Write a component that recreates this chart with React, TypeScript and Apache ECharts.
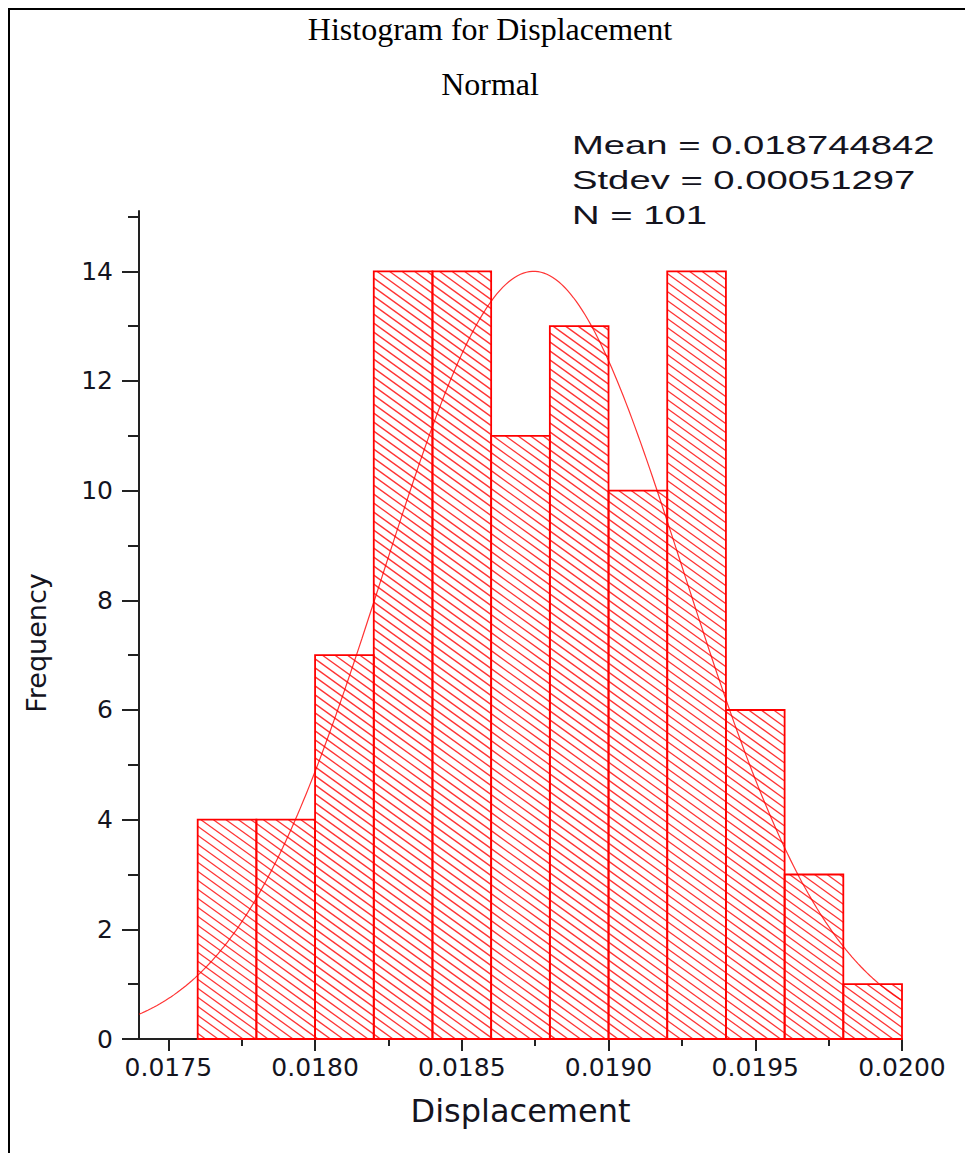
import React, { useEffect, useRef } from "react";
import * as echarts from "echarts";

// Histogram bins (edges) and their frequencies
const binEdges = [0.0176, 0.0178, 0.018, 0.0182, 0.0184, 0.0186, 0.0188, 0.019, 0.0192, 0.0194, 0.0196, 0.0198, 0.02];
const binCounts = [4, 4, 7, 14, 14, 11, 13, 10, 14, 6, 3, 1];

// Axis ranges and tick positions
const xRange = [0.0174, 0.02];
const yRange = [0, 15.1];
const xMajorTicks = [0.0175, 0.018, 0.0185, 0.019, 0.0195, 0.02];
const xMinorTicks = [0.01775, 0.01825, 0.01875, 0.01925, 0.01975];
const yMajorTicks = [0, 2, 4, 6, 8, 10, 12, 14];
const yMinorTicks = [1, 3, 5, 7, 9, 11, 13, 15];

// Fitted normal distribution parameters
const fitMean = 0.018744842;
const fitStdev = 0.00051297;
const sampleSize = 101;

const RED = "#ff0000";
const AXIS = "#222222";
const LABEL = "#14141e";

// Fitted normal curve, scaled to the tallest bin
function normalCurve(): number[][] {
  const peak = Math.max(...binCounts);
  const steps = 260;
  const pts: number[][] = [];
  for (let i = 0; i <= steps; i++) {
    const x = xRange[0] + ((xRange[1] - xRange[0]) * i) / steps;
    const z = (x - fitMean) / fitStdev;
    pts.push([x, peak * Math.exp(-0.5 * z * z)]);
  }
  return pts;
}

const HATCH_SLOPE = 0.72;
const HATCH_STEP = 9;

export default function App() {
  const ref = useRef<HTMLDivElement>(null);

  useEffect(() => {
    if (!ref.current) return;
    const chart = echarts.init(ref.current, undefined, { renderer: "svg" });

    const barData = binCounts.map((c, i) => [binEdges[i], binEdges[i + 1], c]);

    const option: any = {
      animation: false,
      backgroundColor: "#ffffff",
      grid: { left: 139, right: 63, top: 211, bottom: 114, containLabel: false },
      xAxis: [
        {
          type: "value",
          min: xRange[0],
          max: xRange[1],
          position: "bottom",
          name: "Displacement",
          nameLocation: "middle",
          nameGap: 56,
          nameTextStyle: { fontFamily: "DejaVu Sans", fontSize: 32, color: LABEL },
          axisLine: { show: true, onZero: false, lineStyle: { color: AXIS, width: 2 } },
          axisTick: { show: true, length: 12, customValues: xMajorTicks, lineStyle: { color: AXIS, width: 2 } },
          axisLabel: {
            show: true,
            customValues: xMajorTicks,
            margin: 16,
            fontFamily: "DejaVu Sans",
            fontSize: 25,
            color: LABEL,
            formatter: (v: number) => v.toFixed(4),
          },
          splitLine: { show: false },
        },
        {
          type: "value",
          min: xRange[0],
          max: xRange[1],
          position: "bottom",
          axisLine: { show: false, onZero: false },
          axisTick: { show: true, length: 7, customValues: xMinorTicks, lineStyle: { color: AXIS, width: 2 } },
          axisLabel: { show: false },
          splitLine: { show: false },
        },
      ],
      yAxis: [
        {
          type: "value",
          min: yRange[0],
          max: yRange[1],
          position: "left",
          name: "Frequency",
          nameLocation: "middle",
          nameGap: 89,
          nameTextStyle: { fontFamily: "DejaVu Sans", fontSize: 27, color: LABEL, padding: [0, 36, 0, 0] },
          axisLine: { show: true, onZero: false, lineStyle: { color: AXIS, width: 2 } },
          axisTick: { show: true, length: 17, customValues: yMajorTicks, lineStyle: { color: AXIS, width: 2 } },
          axisLabel: {
            show: true,
            customValues: yMajorTicks,
            margin: 26,
            fontFamily: "DejaVu Sans",
            fontSize: 25,
            color: LABEL,
          },
          splitLine: { show: false },
        },
        {
          type: "value",
          min: yRange[0],
          max: yRange[1],
          position: "left",
          axisLine: { show: false, onZero: false },
          axisTick: { show: true, length: 11, customValues: yMinorTicks, lineStyle: { color: AXIS, width: 2 } },
          axisLabel: { show: false },
          splitLine: { show: false },
        },
      ],
      series: [
        {
          type: "custom",
          xAxisIndex: 0,
          yAxisIndex: 0,
          data: barData,
          encode: { x: [0, 1], y: 2 },
          clip: false,
          renderItem: (_params: any, api: any) => {
            const x0 = api.value(0);
            const x1 = api.value(1);
            const c = api.value(2);
            const tl = api.coord([x0, c]);
            const br = api.coord([x1, 0]);
            const left = tl[0];
            const top = tl[1];
            const right = br[0];
            const bottom = br[1];
            const children: any[] = [];
            // diagonal hatching, aligned to a page-wide lattice
            const k = HATCH_SLOPE;
            const cMin = top - k * right;
            const cMax = bottom - k * left;
            for (let cc = Math.ceil(cMin / HATCH_STEP) * HATCH_STEP; cc <= cMax; cc += HATCH_STEP) {
              const xa = Math.max(left, (top - cc) / k);
              const xb = Math.min(right, (bottom - cc) / k);
              if (xb - xa < 0.5) continue;
              children.push({
                type: "line",
                shape: { x1: xa, y1: k * xa + cc, x2: xb, y2: k * xb + cc },
                style: { stroke: "rgba(255,0,0,0.8)", lineWidth: 1.3 },
              });
            }
            children.push({
              type: "rect",
              shape: { x: left, y: top, width: right - left, height: bottom - top },
              style: { fill: "none", stroke: RED, lineWidth: 1.8 },
            });
            return { type: "group", children };
          },
          z: 2,
        },
        {
          type: "line",
          xAxisIndex: 0,
          yAxisIndex: 0,
          data: normalCurve(),
          showSymbol: false,
          smooth: false,
          clip: false,
          lineStyle: { color: RED, width: 1.2, opacity: 0.8 },
          z: 3,
        },
      ],
      graphic: [
        {
          type: "line",
          shape: { x1: 8, y1: 9, x2: 965, y2: 9 },
          style: { stroke: "#000", lineWidth: 2 },
        },
        {
          type: "line",
          shape: { x1: 9, y1: 8, x2: 9, y2: 1153 },
          style: { stroke: "#000", lineWidth: 2 },
        },
        {
          type: "text",
          x: 490,
          y: 29,
          style: {
            text: "Histogram for Displacement",
            fontFamily: "Liberation Serif",
            fontSize: 32,
            fill: "#000",
            textAlign: "center",
            textVerticalAlign: "middle",
          },
        },
        {
          type: "text",
          x: 490,
          y: 84,
          style: {
            text: "Normal",
            fontFamily: "Liberation Serif",
            fontSize: 32,
            fill: "#000",
            textAlign: "center",
            textVerticalAlign: "middle",
          },
        },
        {
          type: "text",
          x: 572,
          y: 128,
          scaleX: 1.53,
          style: {
            text: `Mean = ${fitMean}\nStdev = ${fitStdev}\nN = ${sampleSize}`,
            fontFamily: "Liberation Sans",
            fontSize: 25,
            lineHeight: 35,
            fill: LABEL,
            textAlign: "left",
            textVerticalAlign: "top",
          },
        },
      ],
    };

    chart.setOption(option);
    return () => chart.dispose();
  }, []);

  return (
    <div
      ref={ref}
      style={{ position: "fixed", left: 0, top: 0, width: 965, height: 1153, background: "#fff" }}
    />
  );
}
